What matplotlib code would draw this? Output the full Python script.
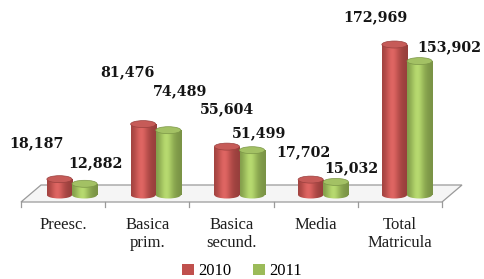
import matplotlib
matplotlib.use("Agg")
import matplotlib.pyplot as plt
import numpy as np
from matplotlib.patches import Ellipse, Polygon, Patch
from matplotlib.colors import to_rgb

categories = ["Preesc.", "Basica\nprim.", "Basica\nsecund.", "Media", "Total\nMatricula"]
vals_2010 = [18187, 81476, 55604, 17702, 172969]
vals_2011 = [12882, 74489, 51499, 15032, 153902]
series_names = ["2010", "2011"]

RED = "#c0504d"
GREEN = "#9bbb59"

# pixel geometry of the fake 3d scene
W, H = 484, 279
PX_X = 83.75          # px per category
X0 = 72               # px of first category centre
Y0 = 195              # px (from top) of value 0
PY = 0.00087          # px per unit of value


def dx(px):
    return px / PX_X


def dy(px):
    return px / PY


# label offsets in px (right, up) from the top of each bar
red_off = [(-23, 36), (-16, 52), (0, 37), (-7, 27), (-19, 27)]
green_off = [(11, 21), (12, 39), (7, 17), (16, 14), (30, 14)]

fig = plt.figure(figsize=(W / 100, H / 100), dpi=100)
ax = fig.add_axes([0, 0, 1, 1])
ax.axis("off")

bar_w = 0.3
eh = dy(7)


def shade_img(color):
    t = np.linspace(0, 1, 80)
    f = 0.78 + 0.3 * np.exp(-((t - 0.4) / 0.32) ** 2)
    c = np.array(to_rgb(color))
    img = np.clip(c[None, :] * f[:, None], 0, 1)
    hl = np.exp(-((t - 0.4) / 0.2) ** 2)[:, None] * 0.06
    img = np.clip(img + hl, 0, 1)
    return img[None, :, :]


def cylinder(x, h, color, z):
    bars = ax.bar(x, h, width=bar_w, color=color, zorder=z, linewidth=0)
    rect = bars[0]
    img = shade_img(color)
    im = ax.imshow(img, extent=(x - bar_w / 2, x + bar_w / 2, 0, h),
                   aspect="auto", zorder=z + 0.01, interpolation="bilinear")
    im.set_clip_path(rect)
    bot = Ellipse((x, 0), bar_w, eh, facecolor="none", edgecolor="none")
    ax.add_patch(bot)
    im2 = ax.imshow(img, extent=(x - bar_w / 2, x + bar_w / 2, -eh, eh),
                    aspect="auto", zorder=z, interpolation="bilinear")
    im2.set_clip_path(bot)
    c = np.array(to_rgb(color))
    top_c = np.clip(c * 0.95 + 0.06, 0, 1)
    ax.add_patch(Ellipse((x, h), bar_w, eh, facecolor=top_c,
                         edgecolor=np.clip(c * 0.8, 0, 1), lw=0.5, zorder=z + 0.02))


# floor
fl, fr = dx(21 - X0), dx(442 - X0)
yf, yb = dy(Y0 - 202), dy(Y0 - 185)
depth = dx(20)
floor = Polygon([(fl, yf), (fr, yf), (fr + depth, yb), (fl + depth, yb)],
                closed=True, facecolor="#f5f5f5", edgecolor="#9a9a9a", lw=0.9, zorder=1)
ax.add_patch(floor)
for i in range(len(categories) + 1):
    xt = fl + i * (fr - fl) / len(categories)
    ax.plot([xt, xt], [yf, yf - dy(5)], color="#9a9a9a", lw=0.9, zorder=1)

x = np.arange(len(categories))
for i in range(len(categories)):
    cylinder(x[i] - bar_w / 2, vals_2010[i], RED, 3 + i)
    cylinder(x[i] + bar_w / 2, vals_2011[i], GREEN, 3.5 + i)

num_font = dict(family="DejaVu Serif", fontweight="bold", fontsize=10.3, color="#151515")
for i in range(len(categories)):
    ox, oy = red_off[i]
    ax.annotate(f"{vals_2010[i]:,}", xy=(x[i] - bar_w / 2, vals_2010[i]),
                xytext=(ox * 0.72, oy * 0.72), textcoords="offset points",
                ha="center", va="center", zorder=20, **num_font)
    ox, oy = green_off[i]
    ax.annotate(f"{vals_2011[i]:,}", xy=(x[i] + bar_w / 2, vals_2011[i]),
                xytext=(ox * 0.72, oy * 0.72), textcoords="offset points",
                ha="center", va="center", zorder=20, **num_font)

for i, name in enumerate(categories):
    xc = fl + (i + 0.5) * (fr - fl) / len(categories)
    ax.text(xc, dy(Y0 - 217), name, ha="center", va="top", family="Liberation Serif",
            fontsize=12, color="#1e1e1e", linespacing=1.2)

ax.set_xlim(-X0 / PX_X, (W - X0) / PX_X)
ax.set_ylim(-dy(H - Y0), dy(Y0))

handles = [Patch(facecolor=RED), Patch(facecolor=GREEN)]
fig.legend(handles, series_names, loc="lower center", bbox_to_anchor=(0.5, -0.055), ncol=2,
           frameon=False, handlelength=0.7, handleheight=0.7, handletextpad=0.25,
           columnspacing=1.3, prop=dict(family="Liberation Serif", size=12))

fig.savefig("out.png", dpi=100)
